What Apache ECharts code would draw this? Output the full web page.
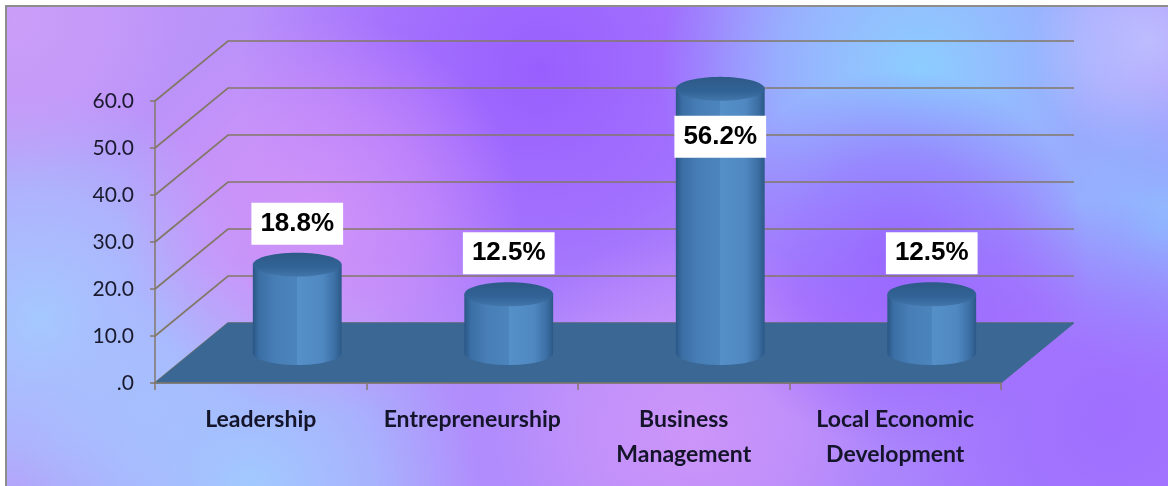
<!DOCTYPE html>
<html>
<head>
<meta charset="utf-8">
<script src="https://cdn.jsdelivr.net/npm/echarts/dist/echarts.min.js"></script>
<style>
  html, body { margin: 0; padding: 0; background: #ffffff; }
  #chart { width: 1168px; height: 486px; }
</style>
</head>
<body>
<div id="chart"></div>
<script>
// ---- data ----
const categories = ['Leadership', 'Entrepreneurship', 'Business\nManagement', 'Local Economic\nDevelopment'];
const shares = [18.8, 12.5, 56.2, 12.5];
const yTicks = [0, 10, 20, 30, 40, 50, 60];

// ---- 3D look: depth offset of the back wall relative to the front plane ----
const DEPTH_X = 73;
const DEPTH_Y = -60;
const GRID_COLOR = '#827868';

const chart = echarts.init(document.getElementById('chart'), null, { renderer: 'canvas' });

function blob(cx, cy, r, rgb, a) {
  return {
    type: 'circle', z: -9, silent: true,
    shape: { cx: cx, cy: cy, r: r },
    style: {
      fill: new echarts.graphic.RadialGradient(0.5, 0.5, 0.5, [
        { offset: 0, color: 'rgba(' + rgb + ',' + a + ')' },
        { offset: 0.55, color: 'rgba(' + rgb + ',' + (a * 0.6) + ')' },
        { offset: 1, color: 'rgba(' + rgb + ',0)' }
      ])
    }
  };
}

const backdrop = [
  {
    type: 'rect', z: -10, silent: true,
    shape: { x: 0, y: 0, width: 1168, height: 486 },
    style: {
      fill: new echarts.graphic.LinearGradient(0, 0, 1, 1, [
        { offset: 0, color: '#bf96f8' },
        { offset: 0.5, color: '#b08cfc' },
        { offset: 1, color: '#a680fc' }
      ])
    }
  },
  blob(540, 70, 300, '150,90,255', 0.9),
  blob(920, 70, 260, '140,205,255', 1),
  blob(1150, 40, 120, '195,200,255', 0.8),
  blob(1160, 230, 150, '140,195,255', 0.9),
  blob(40, 320, 230, '165,200,255', 1),
  blob(250, 490, 230, '160,205,255', 0.95),
  blob(320, 215, 200, '215,148,248', 0.8),
  blob(690, 430, 200, '212,152,248', 0.8),
  blob(900, 260, 190, '152,92,255', 0.85),
  blob(1110, 420, 220, '158,108,255', 0.9),
  blob(20, 20, 160, '205,160,248', 0.75),
  // white margin outside the frame
  { type: 'rect', z: -5, silent: true, shape: { x: 0, y: 0, width: 1168, height: 5 }, style: { fill: '#ffffff' } },
  { type: 'rect', z: -5, silent: true, shape: { x: 0, y: 0, width: 5, height: 486 }, style: { fill: '#ffffff' } },
  // frame
  { type: 'line', z: -4, silent: true, shape: { x1: 5, y1: 6, x2: 1168, y2: 6 }, style: { stroke: '#8d8d8d', lineWidth: 2 } },
  { type: 'line', z: -4, silent: true, shape: { x1: 6, y1: 6, x2: 6, y2: 486 }, style: { stroke: '#8d8d8d', lineWidth: 2 } }
];

function ellipsePoints(cx, cy, rx, ry, a0, a1, n) {
  const pts = [];
  for (let i = 0; i <= n; i++) {
    const a = a0 + (a1 - a0) * i / n;
    pts.push([cx + rx * Math.cos(a), cy + ry * Math.sin(a)]);
  }
  return pts;
}

// back wall gridlines: front tick -> back wall -> across the back
function renderWall(params, api) {
  const cs = params.coordSys;
  const y = api.coord([0, api.value(1)])[1];
  return {
    type: 'polyline',
    shape: {
      points: [
        [cs.x, y],
        [cs.x + DEPTH_X, y + DEPTH_Y],
        [cs.x + cs.width + DEPTH_X, y + DEPTH_Y]
      ]
    },
    style: { stroke: GRID_COLOR, lineWidth: 1.7, fill: null }
  };
}

// floor plane at value 0
function renderFloor(params, api) {
  const cs = params.coordSys;
  const y = api.coord([0, api.value(1)])[1];
  return {
    type: 'polygon',
    shape: {
      points: [
        [cs.x, y],
        [cs.x + cs.width, y],
        [cs.x + cs.width + DEPTH_X, y + DEPTH_Y],
        [cs.x + DEPTH_X, y + DEPTH_Y]
      ]
    },
    style: { fill: '#3b6794', stroke: '#41698f', lineWidth: 1 }
  };
}

// cylinders standing in the middle of the floor depth, with their value box
function renderCylinder(params, api) {
  const cs = params.coordSys;
  const idx = api.value(0);
  const val = api.value(1);
  const base = api.coord([idx, 0]);
  const top = api.coord([idx, val]);
  const catW = api.size([1, 0])[0];
  const cx = base[0] + DEPTH_X / 2;
  const by = base[1] + DEPTH_Y / 2;
  const ty = top[1] + DEPTH_Y / 2;
  const rx = catW * 0.21;
  const ry = 12;

  const body = [[cx - rx, ty]]
    .concat(ellipsePoints(cx, by, rx, ry, Math.PI, 0, 40))
    .concat([[cx + rx, ty]]);
  const cap = ellipsePoints(cx, ty, rx, ry, 0, Math.PI * 2, 60);

  // value box: above the cap, or tucked under it when there is no room above
  let labelY = ty - 41;
  if (labelY < cs.y) labelY = ty + 48;

  return {
    type: 'group',
    children: [
      {
        type: 'polygon',
        shape: { points: body },
        style: {
          fill: new echarts.graphic.LinearGradient(0, 0, 1, 0, [
            { offset: 0, color: '#2a5685' },
            { offset: 0.07, color: '#3a6ea4' },
            { offset: 0.25, color: '#477eb6' },
            { offset: 0.5, color: '#4c84bd' },
            { offset: 0.5, color: '#5690c9' },
            { offset: 0.78, color: '#5089c2' },
            { offset: 0.93, color: '#3b6ea3' },
            { offset: 1, color: '#2b5886' }
          ])
        }
      },
      {
        type: 'polygon',
        shape: { points: cap },
        style: {
          fill: new echarts.graphic.LinearGradient(0, 0, 0, 1, [
            { offset: 0, color: '#2c5a88' },
            { offset: 0.6, color: '#326396' },
            { offset: 1, color: '#4276aa' }
          ])
        }
      },
      {
        type: 'text',
        x: cx,
        y: labelY,
        z2: 10,
        style: {
          text: val.toFixed(1) + '%',
          font: 'bold 26px "Liberation Sans", Arial, sans-serif',
          fill: '#000000',
          align: 'center',
          verticalAlign: 'middle',
          backgroundColor: '#ffffff',
          padding: [9, 9, 7, 9]
        }
      }
    ]
  };
}

const option = {
  animation: false,
  backgroundColor: '#ffffff',
  graphic: backdrop,
  grid: {
    left: 155, top: 101, width: 846, height: 282,
    containLabel: false,
    outerBoundsMode: 'none'
  },
  xAxis: {
    type: 'category',
    data: categories,
    z: 3,
    axisLine: { show: true, lineStyle: { color: GRID_COLOR, width: 1.5 } },
    axisTick: { show: true, length: 7, lineStyle: { color: GRID_COLOR, width: 1.5 } },
    axisLabel: {
      interval: 0,
      margin: 19,
      color: '#14142a',
      fontFamily: 'Lato, "Open Sans", sans-serif',
      fontWeight: 'bold',
      fontSize: 23,
      lineHeight: 35
    },
    splitLine: { show: false }
  },
  yAxis: {
    type: 'value',
    min: 0, max: 60, interval: 10,
    z: 3,
    axisLine: { show: true, lineStyle: { color: GRID_COLOR, width: 1.5 } },
    axisTick: { show: true, length: 5, lineStyle: { color: GRID_COLOR, width: 1.5 } },
    axisLabel: {
      margin: 21,
      color: '#1a1a2e',
      fontFamily: 'Lato, "Open Sans", sans-serif',
      fontSize: 21,
      formatter: function (v) { return v === 0 ? '.0' : v.toFixed(1); }
    },
    splitLine: { show: false }
  },
  series: [
    {
      type: 'custom', name: 'wall', z: 1, silent: true,
      renderItem: renderWall,
      data: yTicks.map(function (t) { return [0, t]; })
    },
    {
      type: 'custom', name: 'floor', z: 2, silent: true,
      renderItem: renderFloor,
      data: [[0, 0]]
    },
    {
      type: 'custom', name: 'share', z: 4,
      renderItem: renderCylinder,
      data: shares.map(function (v, i) { return [i, v]; })
    }
  ]
};

chart.setOption(option);
</script>
</body>
</html>
